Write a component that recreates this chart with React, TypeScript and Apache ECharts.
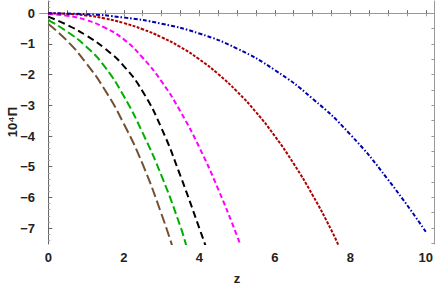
import React, { useEffect, useRef } from "react";
import * as echarts from "echarts";

// Data (z, 10^4 Π)
const blueZ = [0, 1, 2, 3, 4, 5, 6, 7, 8, 9, 10];
const blueP = [0, -0.03, -0.14, -0.34, -0.66, -1.15, -1.85, -2.78, -3.95, -5.42, -7.12];

const redZ = [0, 0.5, 1, 1.5, 2, 2.5, 3, 3.5, 4, 4.5, 5, 5.5, 6, 6.5, 7, 7.5, 7.7];
const redP = [0, -0.02, -0.07, -0.17, -0.32, -0.52, -0.78, -1.1, -1.5, -1.98, -2.55, -3.22, -4.0, -4.9, -5.92, -7.07, -7.6];

const magZ = [0, 0.5, 1, 1.5, 2, 2.5, 3, 3.5, 4, 4.5, 5, 5.1];
const magP = [-0.02, -0.08, -0.22, -0.47, -0.85, -1.45, -2.22, -3.2, -4.37, -5.73, -7.25, -7.6];

const blkZ = [0, 0.5, 1, 1.5, 2, 2.5, 3, 3.5, 4, 4.2];
const blkP = [-0.11, -0.38, -0.72, -1.15, -1.72, -2.55, -3.75, -5.3, -7.0, -7.7];

const grnZ = [0, 0.5, 1, 1.5, 2, 2.5, 3, 3.5, 3.66];
const grnP = [-0.22, -0.6, -1.08, -1.75, -2.7, -3.9, -5.3, -6.95, -7.6];

const brnZ = [0, 0.5, 1, 1.5, 2, 2.5, 3, 3.3];
const brnP = [-0.35, -0.9, -1.62, -2.5, -3.6, -4.92, -6.55, -7.65];

const xLabels = [0, 2, 4, 6, 8, 10];
const yLabels = [0, -1, -2, -3, -4, -5, -6, -7];

const pairs = (zs: number[], ps: number[]) => zs.map((z, i) => [z, ps[i]]);

export default function App() {
  const ref = useRef<HTMLDivElement>(null);
  useEffect(() => {
    if (!ref.current) return;
    const chart = echarts.init(ref.current, undefined, { renderer: "svg" });
    const xHalf: number[] = [];
    for (let i = 0; i <= 20; i++) xHalf.push(i * 0.5);
    const yHalf: number[] = [];
    for (let i = 0; i <= 15; i++) yHalf.push(-i * 0.5);
    const yMinor: number[] = [];
    for (let i = -2; i <= 37; i++) {
      if (i % 5 !== 0) yMinor.push(Math.round(-i * 0.2 * 10) / 10);
    }
    const font = { fontFamily: "Liberation Sans, Arial, sans-serif", fontWeight: "bold" as const, fontSize: 13, color: "#222" };
    const fmt = (v: number) => (v < 0 ? "\u2212" + Math.abs(v) : String(v));
    const mk = (name: string, zs: number[], ps: number[], color: string, dash: number[]) => ({
      name,
      type: "line",
      data: pairs(zs, ps),
      showSymbol: false,
      smooth: 0.5,
      clip: true,
      xAxisIndex: 0,
      yAxisIndex: 0,
      lineStyle: { color, width: 2, type: dash },
    });
    chart.setOption({
      animation: false,
      grid: { left: 40, right: 1, top: 1, bottom: 40 },
      xAxis: [
        {
          type: "value", position: "bottom", min: -0.22, max: 10.23,
          axisLine: { show: true, lineStyle: { color: "#666", width: 1 } },
          axisTick: { show: true, inside: true, length: 3, customValues: xHalf, lineStyle: { color: "#666" } },
          axisLabel: { ...font, margin: 7, customValues: xLabels, formatter: fmt },
          splitLine: { show: false },
        },
        {
          type: "value", position: "top", min: -0.22, max: 10.23,
          axisLine: { show: true, lineStyle: { color: "#999", width: 1 } },
          axisTick: { show: true, inside: true, length: 3, customValues: xHalf, lineStyle: { color: "#999" } },
          axisLabel: { show: false },
          splitLine: { show: false },
        },
      ],
      yAxis: [
        {
          type: "value", position: "left", min: -7.52, max: 0.4,
          axisLine: { show: true, lineStyle: { color: "#666", width: 1 } },
          axisTick: { show: true, inside: true, length: 4, customValues: yLabels, lineStyle: { color: "#666" } },
          axisLabel: { ...font, margin: 5, customValues: yLabels, formatter: fmt },
          splitLine: { show: false },
        },
        {
          type: "value", position: "left", min: -7.52, max: 0.4,
          axisLine: { show: false },
          axisTick: { show: true, inside: true, length: 2, customValues: yMinor, lineStyle: { color: "#aaa" } },
          axisLabel: { show: false },
          splitLine: { show: false },
        },
        {
          type: "value", position: "right", min: -7.52, max: 0.4,
          axisLine: { show: true, lineStyle: { color: "#999", width: 1 } },
          axisTick: { show: true, inside: true, length: 3, customValues: yHalf, lineStyle: { color: "#999" } },
          axisLabel: { show: false },
          splitLine: { show: false },
        },
      ],
      graphic: [
        {
          type: "text", x: 12, y: 122, rotation: Math.PI / 2,
          style: { text: "10\u2074\u03A0", align: "center", verticalAlign: "middle", font: "bold 13px Liberation Sans, Arial, sans-serif", fill: "#222" },
        },
        {
          type: "text", x: 237, y: 278,
          style: { text: "z", align: "center", verticalAlign: "middle", font: "bold 13px Liberation Sans, Arial, sans-serif", fill: "#222" },
        },
      ],
      series: [
        mk("brown", brnZ, brnP, "#735033", [10, 4]),
        mk("green", grnZ, grnP, "#00b000", [8, 3.5]),
        mk("black", blkZ, blkP, "#000000", [7, 4]),
        mk("magenta", magZ, magP, "#ff00ff", [5, 3]),
        mk("red", redZ, redP, "#b00000", [3, 1.5]),
        mk("blue", blueZ, blueP, "#0000b0", [4, 2, 1.5, 2]),
      ],
    });
    return () => chart.dispose();
  }, []);
  return <div ref={ref} style={{ position: "absolute", left: 0, top: 0, width: 436, height: 284 }} />;
}
